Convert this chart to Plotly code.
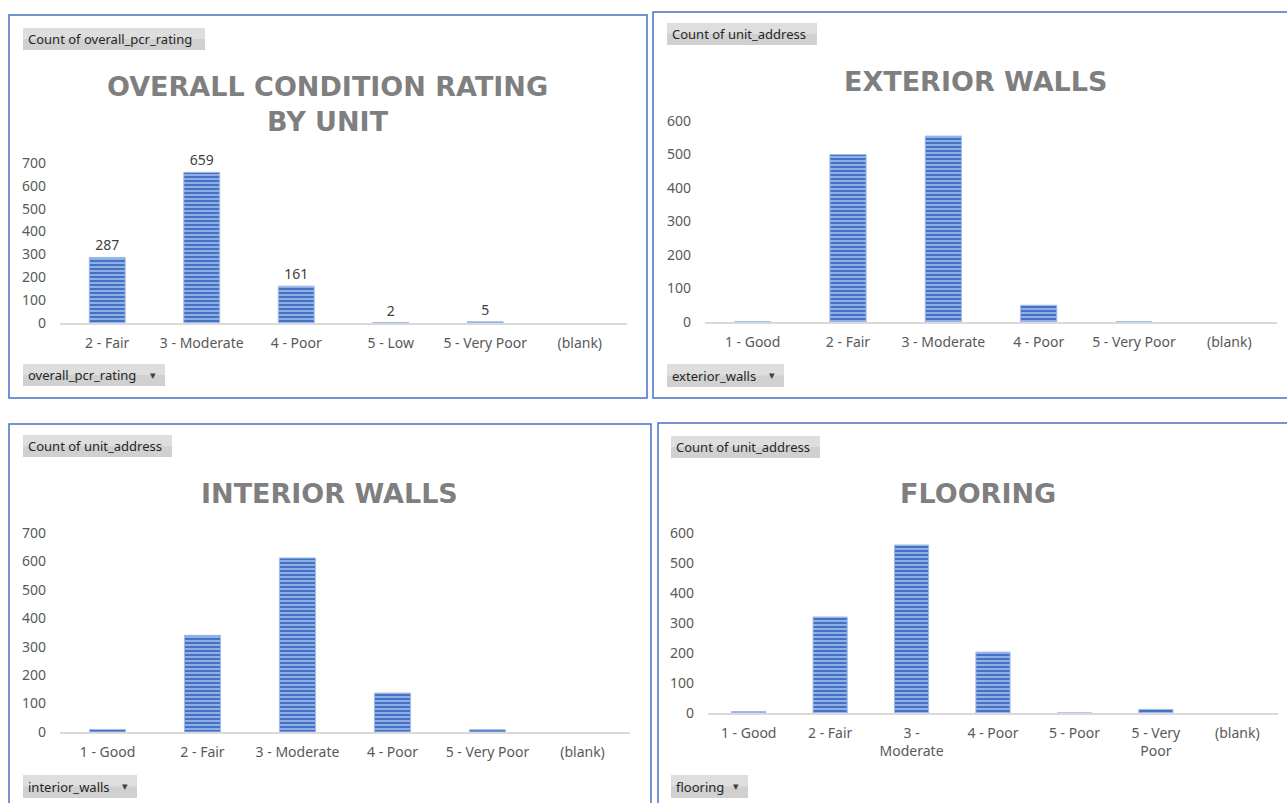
import plotly.graph_objects as go

W, H = 1287, 803

# --- data ---
overall_cats = ["2 - Fair", "3 - Moderate", "4 - Poor", "5 - Low", "5 - Very Poor", "(blank)"]
overall_vals = [287, 659, 161, 2, 5, None]

exterior_cats = ["1 - Good", "2 - Fair", "3 - Moderate", "4 - Poor", "5 - Very Poor", "(blank)"]
exterior_vals = [1, 500, 555, 50, 1, None]

interior_cats = ["1 - Good", "2 - Fair", "3 - Moderate", "4 - Poor", "5 - Very Poor", "(blank)"]
interior_vals = [9, 340, 612, 137, 8, None]

flooring_cats = ["1 - Good", "2 - Fair", "3 - Moderate", "4 - Poor", "5 - Poor", "5 - Very Poor", "(blank)"]
flooring_vals = [5, 320, 560, 203, 0, 12, None]
flooring_ticks = ["1 - Good", "2 - Fair", "3 -<br>Moderate", "4 - Poor", "5 - Poor", "5 - Very<br>Poor", "(blank)"]


def px(x):
    return x / W


def py(y):
    return 1 - y / H


BLUE_BORDER = "#4472C4"
TICK_FONT = dict(family="Noto Sans", size=14, color="#595959")
TITLE_FONT = dict(family="DejaVu Sans", size=27, color="#7f7f7f", weight="bold")
BTN_FONT = dict(family="Noto Sans", size=13, color="#262626")

bar_marker = dict(
    color="#7096dc",
    line=dict(color="#9fb9ea", width=1),
    pattern=dict(shape="-", fgcolor="#4472c4", bgcolor="#a6bfee", size=4, solidity=0.6, fgopacity=1),
)

fig = go.Figure()

# panel definitions: (cats, vals, ticktext, x-range px, y0 px, ytop px, ymax, bar width, labels)
panels = [
    (overall_cats, overall_vals, overall_cats, (60, 627), 323, 163, 700, 0.38, True),
    (exterior_cats, exterior_vals, exterior_cats, (705, 1277), 322, 121, 600, 0.38, False),
    (interior_cats, interior_vals, interior_cats, (60, 630), 732, 533, 700, 0.38, False),
    (flooring_cats, flooring_vals, flooring_ticks, (708, 1278), 713, 533, 600, 0.42, False),
]

layout_axes = {}
for i, (cats, vals, ticks, (xa, xb), y0, ytop, ymax, bw, show_lbl) in enumerate(panels, start=1):
    sfx = "" if i == 1 else str(i)
    fig.add_trace(go.Bar(
        x=cats,
        y=vals,
        width=bw,
        marker=bar_marker,
        xaxis="x" + sfx,
        yaxis="y" + sfx,
        text=[("" if v is None else str(v)) for v in vals] if show_lbl else None,
        textposition="outside" if show_lbl else None,
        textfont=dict(family="Noto Sans", size=14, color="#404040"),
        cliponaxis=False,
        showlegend=False,
    ))
    layout_axes["xaxis" + sfx] = dict(
        domain=[px(xa), px(xb)],
        anchor="y" + sfx,
        type="category",
        categoryorder="array",
        categoryarray=cats,
        tickvals=cats,
        ticktext=ticks,
        showline=True,
        linecolor="#d9d9d9",
        linewidth=2,
        showgrid=False,
        ticks="",
        tickfont=TICK_FONT,
        ticklabelstandoff=6,
        automargin=False,
        fixedrange=True,
    )
    layout_axes["yaxis" + sfx] = dict(
        domain=[py(y0), py(ytop)],
        anchor="x" + sfx,
        range=[0, ymax],
        dtick=100,
        showgrid=False,
        zeroline=False,
        showline=False,
        ticks="",
        tickfont=TICK_FONT,
        ticklabelstandoff=13,
        automargin=False,
        fixedrange=True,
    )

shapes = []
annotations = []

# panel borders
for (x0, y0, x1, y1) in [(9, 15, 647, 398), (653, 12, 1295, 398), (9, 424, 651, 810), (658, 423, 1295, 810)]:
    shapes.append(dict(type="rect", xref="paper", yref="paper",
                       x0=px(x0), x1=px(x1), y0=py(y1), y1=py(y0),
                       line=dict(color=BLUE_BORDER, width=1.5), fillcolor="rgba(0,0,0,0)"))

# titles
titles = [
    ("OVERALL CONDITION RATING<br>BY UNIT", 327, 104),
    ("EXTERIOR WALLS", 975, 82),
    ("INTERIOR WALLS", 330, 493),
    ("FLOORING", 978, 493),
]
for txt, cx, cy in titles:
    annotations.append(dict(text=txt, x=px(cx), y=py(cy), xref="paper", yref="paper",
                            xanchor="center", yanchor="middle", showarrow=False,
                            font=TITLE_FONT, align="center"))

# pivot field buttons
buttons = [
    ("Count of overall_pcr_rating", 23, 28, 205, 50, False),
    ("overall_pcr_rating", 23, 364, 165, 386, True),
    ("Count of unit_address", 667, 23, 817, 45, False),
    ("exterior_walls", 667, 364, 784, 387, True),
    ("Count of unit_address", 23, 435, 172, 457, False),
    ("interior_walls", 23, 775, 137, 798, True),
    ("Count of unit_address", 671, 436, 820, 458, False),
    ("flooring", 671, 775, 748, 798, True),
]
for txt, x0, y0, x1, y1, dd in buttons:
    ym = (y0 + y1) / 2
    shapes.append(dict(type="rect", xref="paper", yref="paper",
                       x0=px(x0), x1=px(x1), y0=py(y1), y1=py(y0),
                       line=dict(width=0), fillcolor="#d0d0d0"))
    shapes.append(dict(type="rect", xref="paper", yref="paper",
                       x0=px(x0), x1=px(x1), y0=py(ym), y1=py(y0),
                       line=dict(width=0), fillcolor="#dedede"))
    annotations.append(dict(text=txt, x=px(x0 + 3), y=py(ym), xref="paper", yref="paper",
                            xanchor="left", yanchor="middle", showarrow=False, font=BTN_FONT))
    if dd:
        annotations.append(dict(text="▾", x=px(x1 - 12), y=py(ym), xref="paper", yref="paper",
                                xanchor="center", yanchor="middle", showarrow=False,
                                font=dict(family="DejaVu Sans", size=11, color="#404040")))

fig.update_layout(
    width=W,
    height=H,
    autosize=False,
    margin=dict(l=0, r=0, t=0, b=0, pad=0, autoexpand=False),
    plot_bgcolor="white",
    paper_bgcolor="white",
    shapes=shapes,
    annotations=annotations,
    **layout_axes,
)

page_css = (
    "document.documentElement.style.margin='0';"
    "document.documentElement.style.overflow='hidden';"
    "document.body.style.margin='0';"
    "document.body.style.overflow='hidden';"
    "document.body.style.height='803px';"
    "var d=document.getElementById('{plot_id}');"
    "d.style.position='absolute';d.style.left='0px';d.style.top='0px';"
)
fig.write_html("out.html", config=dict(displayModeBar=False, responsive=False), post_script=page_css)
